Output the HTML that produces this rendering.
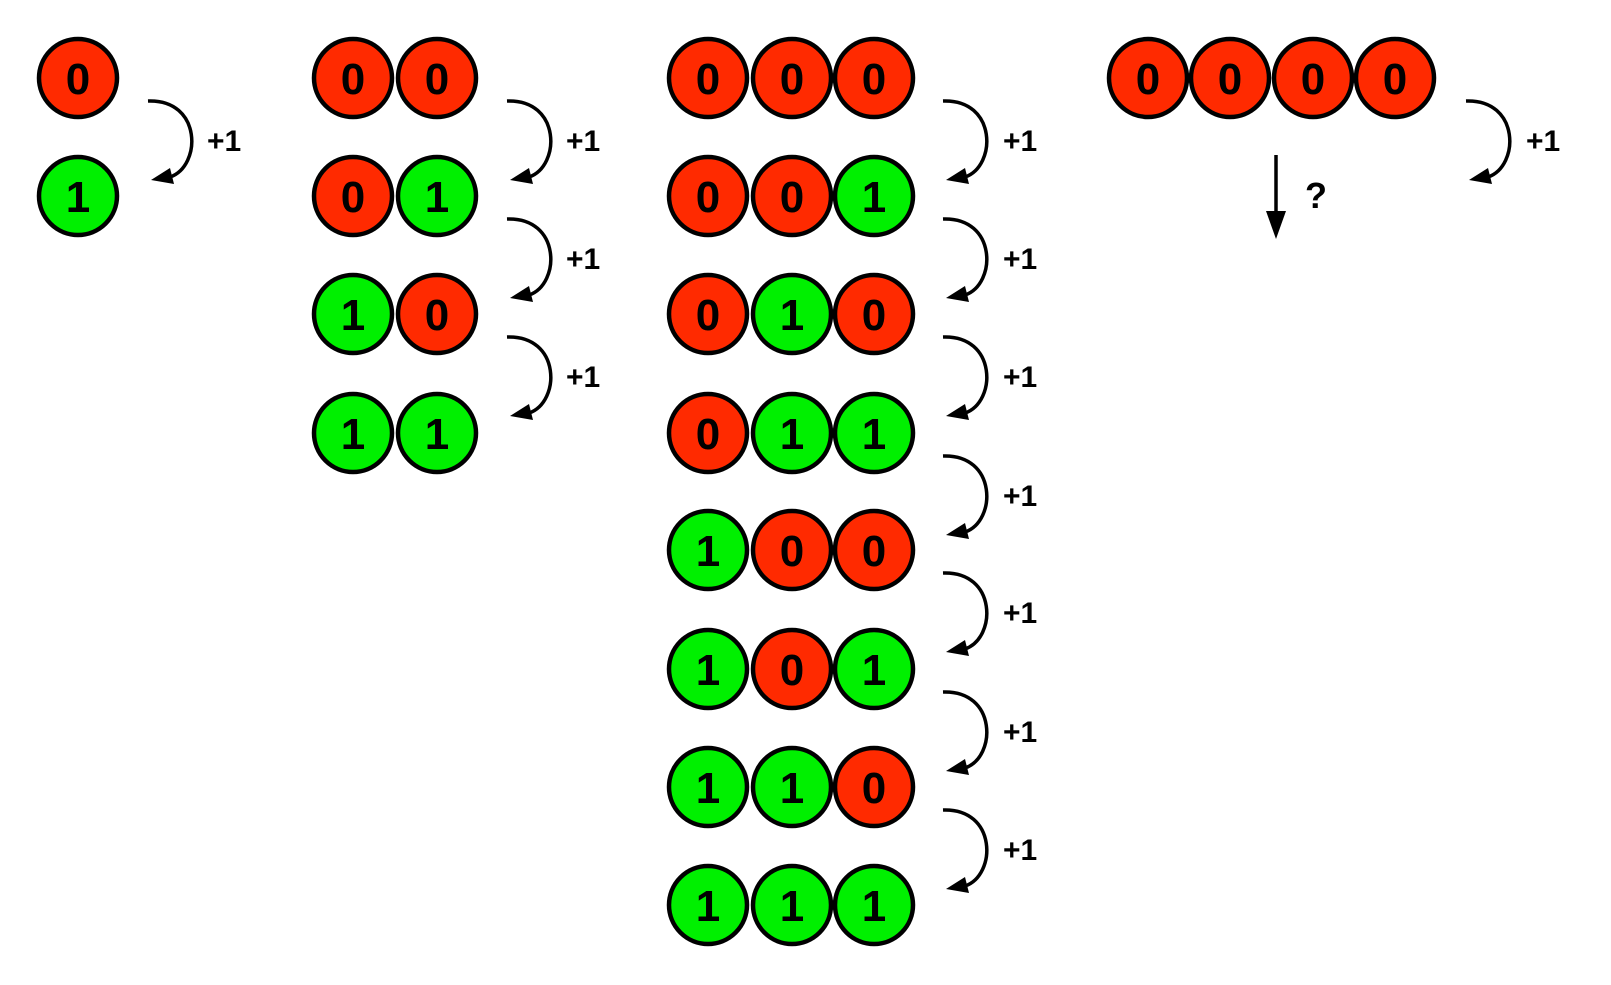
<!DOCTYPE html>
<html><head><meta charset="utf-8"><style>html,body{margin:0;padding:0;background:#fff}svg{display:block}</style></head><body>
<svg width="1611" height="985" viewBox="0 0 1611 985" xmlns="http://www.w3.org/2000/svg" font-family="Liberation Sans, sans-serif" font-weight="bold">
<defs>
<g id="a"><path d="M0,23 C54,21 54,88 22,99" fill="none" stroke="#000" stroke-width="3.5"/><polygon points="3,102 22,90 26,106" fill="#000"/></g>
<circle id="r" r="39" fill="#ff2a00" stroke="#000" stroke-width="4.5"/>
<circle id="g" r="39" fill="#00f000" stroke="#000" stroke-width="4.5"/>
</defs>
<g font-size="44" text-anchor="middle">
<use href="#r" x="78" y="78"/><text x="78" y="94">0</text>
<use href="#g" x="78" y="196"/><text x="78" y="212">1</text>
<use href="#r" x="353" y="78"/><text x="353" y="94">0</text><use href="#r" x="437" y="78"/><text x="437" y="94">0</text>
<use href="#r" x="353" y="196"/><text x="353" y="212">0</text><use href="#g" x="437" y="196"/><text x="437" y="212">1</text>
<use href="#g" x="353" y="314"/><text x="353" y="330">1</text><use href="#r" x="437" y="314"/><text x="437" y="330">0</text>
<use href="#g" x="353" y="433"/><text x="353" y="449">1</text><use href="#g" x="437" y="433"/><text x="437" y="449">1</text>
<use href="#r" x="708" y="78"/><text x="708" y="94">0</text><use href="#r" x="792" y="78"/><text x="792" y="94">0</text><use href="#r" x="874" y="78"/><text x="874" y="94">0</text>
<use href="#r" x="708" y="196"/><text x="708" y="212">0</text><use href="#r" x="792" y="196"/><text x="792" y="212">0</text><use href="#g" x="874" y="196"/><text x="874" y="212">1</text>
<use href="#r" x="708" y="314"/><text x="708" y="330">0</text><use href="#g" x="792" y="314"/><text x="792" y="330">1</text><use href="#r" x="874" y="314"/><text x="874" y="330">0</text>
<use href="#r" x="708" y="433"/><text x="708" y="449">0</text><use href="#g" x="792" y="433"/><text x="792" y="449">1</text><use href="#g" x="874" y="433"/><text x="874" y="449">1</text>
<use href="#g" x="708" y="550"/><text x="708" y="566">1</text><use href="#r" x="792" y="550"/><text x="792" y="566">0</text><use href="#r" x="874" y="550"/><text x="874" y="566">0</text>
<use href="#g" x="708" y="669"/><text x="708" y="685">1</text><use href="#r" x="792" y="669"/><text x="792" y="685">0</text><use href="#g" x="874" y="669"/><text x="874" y="685">1</text>
<use href="#g" x="708" y="787"/><text x="708" y="803">1</text><use href="#g" x="792" y="787"/><text x="792" y="803">1</text><use href="#r" x="874" y="787"/><text x="874" y="803">0</text>
<use href="#g" x="708" y="905"/><text x="708" y="921">1</text><use href="#g" x="792" y="905"/><text x="792" y="921">1</text><use href="#g" x="874" y="905"/><text x="874" y="921">1</text>
<use href="#r" x="1148" y="78"/><text x="1148" y="94">0</text><use href="#r" x="1230" y="78"/><text x="1230" y="94">0</text><use href="#r" x="1313" y="78"/><text x="1313" y="94">0</text><use href="#r" x="1395" y="78"/><text x="1395" y="94">0</text>
</g>
<use href="#a" x="148" y="78"/>
<use href="#a" x="507" y="78"/><use href="#a" x="507" y="196"/><use href="#a" x="507" y="314"/>
<use href="#a" x="943" y="78"/><use href="#a" x="943" y="196"/><use href="#a" x="943" y="314"/><use href="#a" x="943" y="433"/><use href="#a" x="943" y="550"/><use href="#a" x="943" y="669"/><use href="#a" x="943" y="787"/>
<use href="#a" x="1466" y="78"/>
<g font-size="30">
<text x="207" y="151">+1</text>
<text x="566" y="151">+1</text><text x="566" y="269">+1</text><text x="566" y="387">+1</text>
<text x="1003" y="151">+1</text><text x="1003" y="269">+1</text><text x="1003" y="387">+1</text><text x="1003" y="506">+1</text><text x="1003" y="623">+1</text><text x="1003" y="742">+1</text><text x="1003" y="860">+1</text>
<text x="1526" y="151">+1</text>
</g>
<line x1="1276" y1="155" x2="1276" y2="215" stroke="#000" stroke-width="3.5"/>
<polygon points="1266,211 1286,211 1276,239" fill="#000"/>
<text x="1305" y="208" font-size="36">?</text>
</svg>
</body></html>
